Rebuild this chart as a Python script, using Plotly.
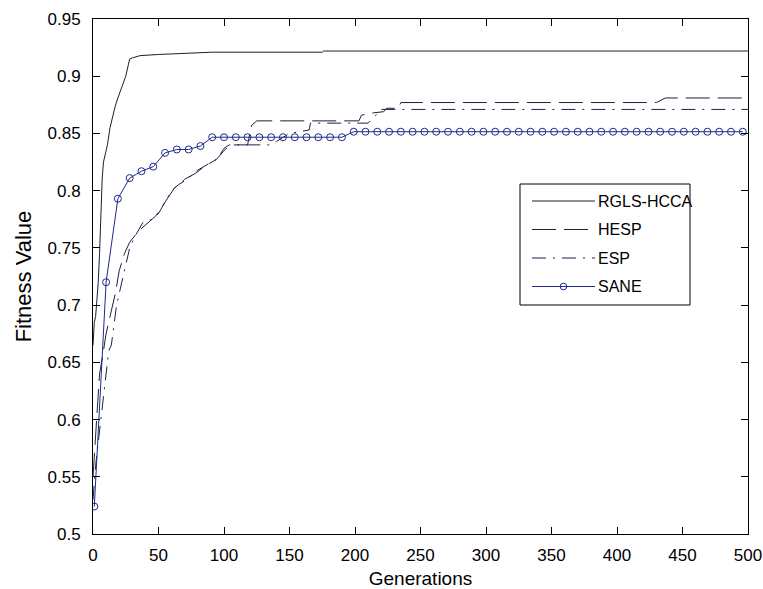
import plotly.graph_objects as go

# ---- data -------------------------------------------------------------
rgls_x = [0, 1, 2, 3, 4, 5, 6, 7, 8, 9, 11, 13, 15, 17, 19, 21, 23, 25, 27, 28,
          30, 36, 50, 68, 91, 175, 176, 500]
rgls_y = [0.665, 0.685, 0.69, 0.705, 0.72, 0.745, 0.79, 0.81, 0.825, 0.83, 0.84,
          0.855, 0.866, 0.874, 0.881, 0.887, 0.893, 0.90, 0.91, 0.915, 0.916,
          0.918, 0.919, 0.920, 0.921, 0.921, 0.922, 0.922]

hesp_x = [0, 3, 5, 8, 10, 13, 17, 20, 24, 28, 35, 42, 48, 55, 62, 70, 78, 86, 94,
          100, 105, 118, 121, 125, 203, 205, 214, 222, 224, 233, 235, 430, 437, 500]
hesp_y = [0.55, 0.60, 0.64, 0.66, 0.675, 0.69, 0.71, 0.73, 0.745, 0.755, 0.765,
          0.772, 0.778, 0.79, 0.802, 0.81, 0.815, 0.822, 0.827, 0.835, 0.84, 0.84,
          0.857, 0.861, 0.861, 0.866, 0.868, 0.869, 0.872, 0.872, 0.877, 0.877,
          0.881, 0.881]

esp_x = [0, 2, 4, 6, 8, 10, 12, 14, 16, 18, 20, 22, 25, 28, 32, 38, 45, 50, 55, 60,
         65, 72, 80, 88, 95, 100, 104, 135, 140, 150, 165, 166, 210, 215, 220, 500]
esp_y = [0.53, 0.56, 0.58, 0.60, 0.625, 0.645, 0.66, 0.665, 0.685, 0.70, 0.71,
         0.72, 0.735, 0.75, 0.76, 0.772, 0.775, 0.78, 0.79, 0.80, 0.805, 0.81,
         0.818, 0.823, 0.828, 0.837, 0.84, 0.84, 0.843, 0.85, 0.853, 0.859, 0.859,
         0.865, 0.871, 0.871]

# SANE is sampled every 9 generations (1, 10, 19, ..., 496)
sane_x = list(range(1, 500, 9))
sane_y = ([0.524, 0.72, 0.793, 0.811, 0.817, 0.821, 0.833, 0.836, 0.836, 0.839]
          + [0.8467] * 12
          + [0.8515] * 34)

x_ticks = [0, 50, 100, 150, 200, 250, 300, 350, 400, 450, 500]
y_ticks = [0.5, 0.55, 0.6, 0.65, 0.7, 0.75, 0.8, 0.85, 0.9, 0.95]
y_tick_text = ["0.5", "0.55", "0.6", "0.65", "0.7", "0.75", "0.8", "0.85", "0.9", "0.95"]

series_names = ["RGLS-HCCA", "HESP", "ESP", "SANE"]

# ---- styling ----------------------------------------------------------
C_RGLS = "#1c1c36"
C_HESP = "#20203a"
C_ESP = "#1e2050"
C_SANE = "#1c2a8a"
DASH_HESP = "24px,8px"
DASH_ESP = "14px,7px,2px,7px"
FONT = "Liberation Sans, Arial, sans-serif"

fig = go.Figure()
fig.add_trace(go.Scatter(x=rgls_x, y=rgls_y, mode="lines", name=series_names[0],
                         line=dict(color=C_RGLS, width=1)))
fig.add_trace(go.Scatter(x=hesp_x, y=hesp_y, mode="lines", name=series_names[1],
                         line=dict(color=C_HESP, width=1, dash=DASH_HESP)))
fig.add_trace(go.Scatter(x=esp_x, y=esp_y, mode="lines", name=series_names[2],
                         line=dict(color=C_ESP, width=1, dash=DASH_ESP)))
fig.add_trace(go.Scatter(x=sane_x, y=sane_y, mode="lines+markers", name=series_names[3],
                         line=dict(color=C_SANE, width=1),
                         marker=dict(symbol="circle-open", size=7,
                                     color=C_SANE, line=dict(width=1, color=C_SANE))))

W, H = 763, 589
ML, MR, MT, MB = 93, 15, 19, 55
PW, PH = W - ML - MR, H - MT - MB


def px(xp):
    return (xp - ML) / PW


def py(yp):
    return (H - MB - yp) / PH


# ---- hand-built legend box (long sample lines, MATLAB style) ----------
shapes = [dict(type="rect", xref="paper", yref="paper",
               x0=px(520), x1=px(690), y0=py(305), y1=py(184),
               line=dict(color="black", width=1), fillcolor="white", layer="above")]
annotations = []
rows = [201, 229.5, 258, 286.5]
styles = [(C_RGLS, "solid"), (C_HESP, DASH_HESP), (C_ESP, DASH_ESP), (C_SANE, "solid")]
for name, yrow, (col, dash) in zip(series_names, rows, styles):
    shapes.append(dict(type="line", xref="paper", yref="paper",
                       x0=px(532), x1=px(595), y0=py(yrow), y1=py(yrow),
                       line=dict(color=col, width=1, dash=dash), layer="above"))
    annotations.append(dict(text=name, xref="paper", yref="paper",
                            x=px(596), y=py(yrow), xanchor="left", yanchor="middle",
                            showarrow=False, font=dict(family=FONT, size=16, color="black")))
# open circle on the SANE sample line
r = 3.3
shapes.append(dict(type="circle", xref="paper", yref="paper",
                   x0=px(563.5 - r), x1=px(563.5 + r), y0=py(286.5 + r), y1=py(286.5 - r),
                   line=dict(color=C_SANE, width=1), fillcolor="rgba(0,0,0,0)", layer="above"))

axis_common = dict(showgrid=False, zeroline=False, showline=True, linecolor="black",
                   linewidth=1, mirror="ticks", ticks="inside", ticklen=7,
                   tickcolor="black", tickwidth=1, automargin=False,
                   tickfont=dict(family=FONT, size=17, color="black"))

fig.update_layout(
    width=W, height=H,
    margin=dict(l=ML, r=MR, t=MT, b=MB, pad=0),
    paper_bgcolor="white", plot_bgcolor="white",
    showlegend=False,
    shapes=shapes, annotations=annotations,
    xaxis=dict(range=[0, 500], tickvals=x_ticks, ticklabelstandoff=6,
               title=dict(text="Generations", font=dict(family=FONT, size=19, color="black"),
                          standoff=12),
               **axis_common),
    yaxis=dict(range=[0.5, 0.95], tickvals=y_ticks, ticktext=y_tick_text,
               ticklabelstandoff=8,
               title=dict(text="Fitness Value", font=dict(family=FONT, size=22, color="black"),
                          standoff=9),
               **axis_common),
)

fig.write_html("out.html")
